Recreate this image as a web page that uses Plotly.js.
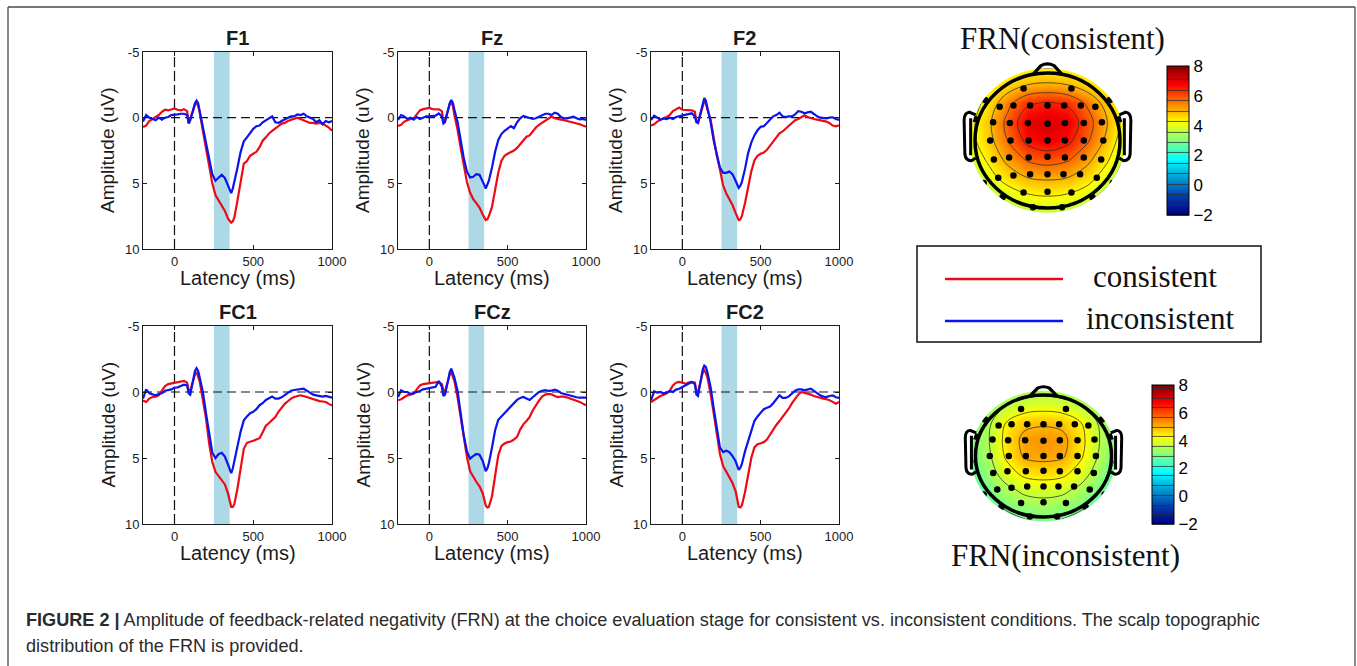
<!DOCTYPE html>
<html><head><meta charset="utf-8">
<script src="https://cdn.plot.ly/plotly-3.0.1.min.js"></script>
<style>html,body{margin:0;padding:0;background:#fff;} #chart{width:1357px;height:666px;}</style>
</head><body><div id="chart"></div>
<script>
// ---------------- DATA ----------------
const latency = [-200,-180,-160,-140,-120,-100,-80,-60,-40,-20,0,20,40,60,80,90,100,120,130,140,150,160,180,200,220,240,260,280,300,320,340,350,360,370,380,400,420,440,460,480,500,520,540,560,580,600,620,640,660,680,700,720,740,760,780,800,820,840,860,880,900,920,940,960,980,1000];
const channels = ['F1','Fz','F2','FC1','FCz','FC2'];
const conditions = ['consistent','inconsistent'];
const frnWindow = [250, 350];
const yTickVals = [-5,0,5,10];
const yTickText = ['-5','0','5','10'];
const xTickVals = [0,500,1000];

const consF1 = [0.7,0.6,0.25,0.1,0.0,-0.2,-0.45,-0.6,-0.55,-0.6,-0.7,-0.6,-0.55,-0.65,-0.5,0.4,0.1,-0.6,-1.0,-1.15,-0.9,-0.4,1.0,2.25,3.8,5.0,5.9,6.3,6.7,7.1,7.7,7.9,8.0,7.9,7.6,6.3,4.8,3.5,3.3,2.9,2.75,2.6,2.25,1.75,1.5,1.2,1.0,0.85,0.65,0.45,0.4,0.25,0.15,0.1,0.0,0.1,0.2,0.35,0.4,0.4,0.45,0.4,0.45,0.6,0.75,1.0];
const inconF1 = [0.3,-0.2,0.0,0.1,0.2,0.0,0.15,0.0,-0.05,-0.2,-0.2,-0.25,-0.3,-0.3,-0.2,0.45,0.2,-0.7,-1.1,-1.3,-1.1,-0.5,0.7,2.0,3.3,4.3,4.8,4.55,4.35,4.6,5.2,5.5,5.75,5.4,4.9,3.8,2.6,1.8,1.5,1.2,0.85,0.65,0.6,0.35,0.2,0.0,-0.1,0.35,0.4,0.25,0.15,0.0,-0.1,-0.1,-0.25,-0.2,-0.3,-0.1,0.0,0.1,0.35,0.2,0.5,0.25,0.35,0.25];

const consFz = [0.63,0.55,0.3,0.18,0.1,0.05,-0.3,-0.55,-0.65,-0.7,-0.74,-0.65,-0.63,-0.63,-0.5,0.3,0.2,-0.6,-1.0,-1.14,-0.9,-0.2,0.9,2.3,3.7,4.9,5.7,6.2,6.5,6.85,7.35,7.6,7.8,7.75,7.5,6.8,5.4,4.2,3.3,2.9,2.75,2.65,2.5,2.3,2.0,1.75,1.45,1.35,1.05,0.75,0.55,0.4,0.2,0.1,-0.08,0.05,0.13,0.15,0.2,0.25,0.3,0.4,0.43,0.5,0.6,0.69];
const inconFz = [0.18,-0.2,-0.1,0.1,0.0,0.15,-0.05,0.1,0.0,-0.1,-0.1,-0.15,-0.15,-0.33,-0.1,0.45,0.35,-0.6,-1.1,-1.35,-1.15,-0.6,0.3,1.7,3.1,4.1,4.55,4.5,4.3,4.35,4.8,5.1,5.4,5.1,4.8,3.8,2.6,1.7,1.25,1.0,0.8,0.65,0.8,0.35,0.05,-0.13,-0.05,0.05,0.1,0.05,-0.05,-0.2,-0.3,-0.3,-0.2,-0.38,-0.3,-0.05,0.05,0.05,0.0,-0.08,0.05,0.13,0.1,0.18];

const consF2 = [0.6,0.5,0.3,0.15,0.05,-0.05,-0.2,-0.5,-0.65,-0.77,-0.6,-0.6,-0.56,-0.56,-0.45,0.3,0.4,-0.4,-0.9,-1.25,-1.1,-0.6,0.1,1.5,2.9,3.95,5.15,5.75,6.2,6.65,7.25,7.5,7.8,7.75,7.5,6.5,5.3,4.1,3.25,2.9,2.75,2.65,2.45,2.15,1.85,1.5,1.2,1.05,0.85,0.6,0.4,0.2,0.1,-0.05,-0.18,-0.05,0.05,0.1,0.15,0.2,0.25,0.3,0.42,0.6,0.66,0.59];
const inconF2 = [0.18,-0.15,0.0,0.15,0.05,0.1,0.0,0.1,-0.05,-0.1,-0.2,-0.2,-0.28,-0.33,-0.1,0.35,0.4,-0.5,-1.1,-1.5,-1.3,-0.8,0.3,1.75,2.9,3.8,4.2,4.2,4.1,4.3,4.8,5.1,5.35,5.2,4.9,3.9,2.7,1.9,1.35,0.95,0.7,0.65,0.4,0.15,-0.1,-0.2,-0.38,-0.1,-0.05,-0.1,-0.1,-0.25,-0.5,-0.45,-0.33,-0.4,-0.45,-0.28,-0.1,0.0,0.05,0.05,0.0,-0.03,0.1,0.18];

const consFC1 = [0.65,0.75,0.5,0.38,0.35,0.25,-0.1,-0.45,-0.6,-0.65,-0.69,-0.75,-0.78,-0.84,-0.7,-0.1,-0.1,-0.9,-1.35,-1.5,-1.2,-0.8,0.6,2.0,3.9,5.3,6.05,6.35,6.7,7.0,7.7,8.3,8.7,8.7,8.5,7.3,5.6,4.3,3.85,3.8,3.7,3.6,3.5,3.05,2.55,2.35,2.1,1.9,1.5,1.15,0.9,0.7,0.5,0.38,0.3,0.25,0.3,0.38,0.5,0.58,0.62,0.69,0.72,0.76,0.9,1.02];
const inconFC1 = [0.5,-0.2,0.1,0.2,0.25,0.15,0.1,-0.1,-0.15,-0.2,-0.33,-0.35,-0.45,-0.55,-0.5,0.1,0.2,-1.0,-1.6,-1.8,-1.6,-1.1,0.0,1.6,3.3,4.6,5.0,4.7,4.6,4.9,5.5,5.85,6.15,5.8,5.3,4.1,3.0,2.15,1.85,1.6,1.5,1.3,1.0,0.85,0.6,0.5,0.35,0.5,0.5,0.4,0.25,0.1,-0.1,-0.15,-0.2,-0.2,-0.25,-0.1,0.05,0.2,0.25,0.3,0.35,0.3,0.38,0.43];

const consFCz = [0.63,0.55,0.4,0.25,0.2,0.13,-0.2,-0.5,-0.6,-0.63,-0.63,-0.65,-0.68,-0.76,-0.6,-0.1,-0.05,-0.9,-1.3,-1.5,-1.2,-0.85,0.4,1.95,3.4,4.9,6.0,6.45,6.8,7.15,7.65,8.1,8.6,8.75,8.7,7.9,6.3,4.8,4.1,3.9,3.8,3.75,3.6,3.4,2.85,2.45,2.2,1.9,1.4,1.0,0.65,0.35,0.2,0.15,0.18,0.3,0.38,0.35,0.35,0.42,0.5,0.55,0.63,0.75,0.88,1.01];
const inconFCz = [0.38,-0.13,0.0,0.0,0.15,0.08,0.0,-0.08,-0.2,-0.25,-0.25,-0.3,-0.4,-0.84,-0.4,0.3,0.2,-0.9,-1.5,-1.77,-1.5,-1.1,-0.1,1.7,3.3,4.5,5.05,4.85,4.7,4.75,5.2,5.6,6.0,5.8,5.4,4.2,2.9,2.1,1.85,1.65,1.35,1.15,0.89,0.6,0.45,0.38,0.5,0.6,0.4,0.2,0.0,-0.1,-0.15,-0.08,-0.1,-0.18,-0.1,0.08,0.15,0.25,0.3,0.38,0.4,0.43,0.43,0.43];

const consFC2 = [0.76,0.6,0.45,0.3,0.2,0.1,-0.1,-0.5,-0.7,-0.76,-0.7,-0.63,-0.72,-0.76,-0.7,-0.05,0.0,-1.0,-1.45,-1.65,-1.45,-1.1,0.1,1.6,3.3,4.7,5.6,6.08,6.45,6.9,7.5,8.1,8.7,8.75,8.6,7.6,6.2,5.0,4.2,3.95,3.88,3.8,3.6,3.2,2.8,2.5,2.2,1.9,1.6,1.25,0.85,0.5,0.2,0.0,0.05,0.1,0.2,0.3,0.38,0.45,0.5,0.55,0.62,0.75,0.89,0.76];
const inconFC2 = [0.63,-0.05,0.05,0.0,0.1,0.05,-0.08,0.0,-0.18,-0.25,-0.38,-0.5,-0.6,-0.76,-0.6,0.2,0.3,-1.0,-1.7,-2.0,-1.9,-1.5,-0.4,1.2,2.9,4.2,4.55,4.45,4.55,4.85,5.25,5.6,5.9,5.75,5.45,4.5,3.7,3.0,2.2,1.85,1.6,1.3,1.2,1.1,0.85,0.5,0.25,0.45,0.45,0.33,0.1,-0.1,-0.2,-0.2,-0.13,-0.2,-0.25,-0.08,0.1,0.25,0.35,0.38,0.3,0.25,0.4,0.45];

const erpConsistent = [consF1, consFz, consF2, consFC1, consFCz, consFC2];
const erpInconsistent = [inconF1, inconFz, inconF2, inconFC1, inconFCz, inconFC2];

// Scalp maps (FRN amplitude, uV) on a grid over the head (rows bottom -> top)
const topoGridU = [-1.1,-0.825,-0.55,-0.275,0,0.275,0.55,0.825,1.1];
const topoGridV = [-1.1,-0.825,-0.55,-0.275,0,0.275,0.55,0.825,1.1];
const topoConsistent = [
  [2.5,2.9,3.3,3.5,3.6,3.5,3.3,2.9,2.4],
  [2.9,3.4,3.9,4.2,4.3,4.2,3.9,3.3,2.7],
  [3.3,4.0,4.6,5.0,5.1,5.0,4.6,3.9,3.1],
  [3.7,4.4,5.2,5.8,6.0,5.8,5.2,4.4,3.4],
  [4.0,4.7,5.7,6.6,6.9,6.6,5.8,4.8,3.7],
  [4.0,4.8,5.9,6.9,7.1,6.9,6.0,5.0,3.9],
  [3.9,4.5,5.5,6.3,6.5,6.3,5.6,4.7,3.9],
  [3.7,4.2,4.6,5.0,5.1,5.0,4.6,4.2,3.7],
  [3.4,3.8,4.0,4.2,4.2,4.2,4.0,3.8,3.4]
];
const topoInconsistent = [
  [2.0,2.3,2.6,2.8,2.9,2.8,2.6,2.3,2.0],
  [2.2,2.6,3.0,3.2,3.3,3.2,3.0,2.6,2.2],
  [2.4,2.9,3.4,3.8,3.9,3.8,3.4,2.9,2.4],
  [2.6,3.2,4.0,4.5,4.6,4.5,4.0,3.2,2.6],
  [2.8,3.4,4.4,5.1,5.2,5.1,4.4,3.5,2.8],
  [2.9,3.5,4.5,5.2,5.3,5.2,4.5,3.6,2.9],
  [2.8,3.4,4.3,4.8,4.9,4.8,4.3,3.5,2.8],
  [2.7,3.1,3.6,3.9,4.0,3.9,3.6,3.1,2.7],
  [2.5,2.8,3.0,3.2,3.3,3.2,3.0,2.8,2.5]
];
// electrode positions (normalized head coordinates)
const elecU = [-0.33,0.33, -0.86,0.86, -0.66,-0.47,-0.24,0,0.23,0.46,0.66, -1.0,1.0, -0.75,-0.52,-0.27,0,0.24,0.5,0.75, -0.79,-0.51,-0.26,0,0.24,0.5,0.77, -0.74,-0.53,-0.26,0,0.24,0.5,0.74, -0.68,-0.47,-0.24,0,0.22,0.45,0.68, -0.88,0.9, -0.33,0,0.33, -0.62,0.62, -0.2,0.2];
const elecV = [0.77,0.77, 0.6,0.6, 0.5,0.52,0.52,0.52,0.52,0.52,0.5, 0.32,0.32, 0.27,0.26,0.26,0.25,0.26,0.26,0.27, 0.0,0.0,0.0,0.0,0.0,0.0,0.0, -0.28,-0.25,-0.25,-0.24,-0.25,-0.25,-0.28, -0.55,-0.52,-0.5,-0.5,-0.5,-0.5,-0.55, -0.63,-0.63, -0.77,-0.76,-0.77, -0.84,-0.84, -0.99,-0.99];

const colorbarTicks = [-2,0,2,4,6,8];
const colorbarText = ['\u22122','0','2','4','6','8'];

// ---------------- LAYOUT HELPERS ----------------
const W = 1357, H = 666;
const px = x => x / W;
const py = y => 1 - y / H;
const cols = [[143,332],[398,586],[651,839]];
const rows = [[52,249],[326,524]];
const RED = 'rgb(238,10,20)', BLUE = 'rgb(10,20,238)';
const SANS = 'Liberation Sans, Arial, sans-serif';
const SERIF = 'Liberation Serif, Times New Roman, serif';
const INK = '#1b1b1b';

const traces = [];
const shapes = [];
const annotations = [];
const layout = {
  width: W, height: H, margin: {l:0,r:0,t:0,b:0},
  paper_bgcolor: '#fff', plot_bgcolor: '#fff', showlegend: false,
  font: {family: SANS, color: INK}
};

channels.forEach((ch, i) => {
  const c = cols[i % 3], r = rows[Math.floor(i / 3)];
  const n = i + 1;
  const xa = 'x' + n, ya = 'y' + n;
  layout['xaxis' + n] = {
    domain: [px(c[0]), px(c[1])], anchor: ya, range: [-200, 1000],
    tickvals: xTickVals, ticks: 'inside', ticklen: 4, tickcolor: INK,
    showline: true, linecolor: INK, linewidth: 1, mirror: 'ticks',
    showgrid: false, zeroline: false, tickfont: {size: 13, color: INK, family: SANS}
  };
  layout['yaxis' + n] = {
    domain: [py(r[1]), py(r[0])], anchor: xa, range: [10, -5],
    tickvals: yTickVals, ticktext: yTickText, ticks: 'inside', ticklen: 4, tickcolor: INK,
    showline: true, linecolor: INK, linewidth: 1, mirror: 'ticks',
    showgrid: false, zeroline: false, tickfont: {size: 13, color: INK, family: SANS}
  };
  shapes.push({type:'rect', xref: xa, yref: ya + ' domain', x0: frnWindow[0], x1: frnWindow[1], y0: 0, y1: 1,
    fillcolor: 'rgb(173,216,230)', line: {width: 0}, layer: 'below'});
  shapes.push({type:'line', xref: xa, yref: ya + ' domain', x0: 0, x1: 0, y0: 0, y1: 1,
    line: {color: '#111', width: 1.2, dash: '10px,4px'}, layer: 'below'});
  shapes.push({type:'line', xref: xa + ' domain', yref: ya, x0: 0, x1: 1, y0: 0, y1: 0,
    line: {color: '#111', width: 1.2, dash: '9px,5px'}, layer: 'below'});
  traces.push({type:'scatter', mode:'lines', x: latency, y: erpConsistent[i], xaxis: xa, yaxis: ya,
    name: conditions[0], line: {color: RED, width: 2.2}, hoverinfo: 'skip'});
  traces.push({type:'scatter', mode:'lines', x: latency, y: erpInconsistent[i], xaxis: xa, yaxis: ya,
    name: conditions[1], line: {color: BLUE, width: 2.2}, hoverinfo: 'skip'});
  annotations.push({xref:'paper', yref:'paper', x: px((c[0]+c[1])/2), y: py(r[0]-14), text: '<b>' + ch + '</b>',
    showarrow: false, xanchor: 'center', yanchor: 'middle', font: {size: 20, family: SANS, color: INK}});
  annotations.push({xref:'paper', yref:'paper', x: px(c[0]-35.5), y: py((r[0]+r[1])/2), text: 'Amplitude (uV)',
    textangle: -90, showarrow: false, xanchor: 'center', yanchor: 'middle', font: {size: 19, family: SANS, color: INK}});
  annotations.push({xref:'paper', yref:'paper', x: px((c[0]+c[1])/2), y: py(r[1]+29), text: 'Latency (ms)',
    showarrow: false, xanchor: 'center', yanchor: 'middle', font: {size: 20, family: SANS, color: INK}});
});

// ---------------- SCALP MAPS ----------------
function ellipsePath(rad, ccw) {
  let s = '';
  const N = 72;
  for (let k = 0; k <= N; k++) {
    const a = (ccw ? 1 : -1) * 2 * Math.PI * k / N;
    s += (k === 0 ? 'M ' : ' L ') + (rad * Math.cos(a)).toFixed(4) + ',' + (rad * Math.sin(a)).toFixed(4);
  }
  return s + ' Z';
}
const topoSpecs = [
  {n: 7, z: topoConsistent, cx: 1047.5, cy: 140.5, rx: 72.5, ry: 67.5,
   cb: {x: 1167, top: 66, bottom: 215, th: 22}, title: 'FRN(consistent)', tx: 1062, ty: 38},
  {n: 8, z: topoInconsistent, cx: 1043.5, cy: 456, rx: 68, ry: 61,
   cb: {x: 1152, top: 385, bottom: 524, th: 22}, title: 'FRN(inconsistent)', tx: 1065, ty: 555}
];
const K = 1.45;
topoSpecs.forEach(s => {
  const xa = 'x' + s.n, ya = 'y' + s.n;
  layout['xaxis' + s.n] = {domain: [px(s.cx - K*s.rx), px(s.cx + K*s.rx)], range: [-K, K], visible: false, anchor: ya, fixedrange: true};
  layout['yaxis' + s.n] = {domain: [py(s.cy + K*s.ry), py(s.cy - K*s.ry)], range: [-K, K], visible: false, anchor: xa, fixedrange: true};
  traces.push({type: 'contour', x: topoGridU, y: topoGridV, z: s.z, xaxis: xa, yaxis: ya,
    colorscale: 'Jet', zauto: false, zmin: -2, zmax: 8, hoverinfo: 'skip',
    contours: {coloring: 'heatmap', start: -2, end: 8, size: 0.7, showlines: true},
    line: {color: 'rgba(45,45,45,0.85)', width: 0.9, smoothing: 1},
    colorbar: {x: px(s.cb.x), xanchor: 'left', xpad: 0, y: py(s.cb.top), yanchor: 'top', ypad: 0,
      len: s.cb.bottom - s.cb.top, lenmode: 'pixels', thickness: s.cb.th, thicknessmode: 'pixels',
      outlinewidth: 1, outlinecolor: '#000', tickvals: colorbarTicks, ticktext: colorbarText,
      ticks: '', tickfont: {size: 17, family: SANS, color: '#000'}}
  });
  // mask outside the head
  const box = 'M -2,-2 L 2,-2 L 2,2 L -2,2 Z ';
  shapes.push({type: 'path', xref: xa, yref: ya, path: box + ellipsePath(1.07, true), fillrule: 'evenodd',
    fillcolor: '#fff', line: {width: 0}, layer: 'above'});
  // head outline, nose, ears
  shapes.push({type: 'circle', xref: xa, yref: ya, x0: -1, x1: 1, y0: -1, y1: 1, line: {color: '#000', width: 3.5}, layer: 'above'});
  shapes.push({type: 'path', xref: xa, yref: ya, path: 'M -0.2,0.98 L -0.09,1.11 Q 0,1.16 0.09,1.11 L 0.2,0.98',
    line: {color: '#000', width: 3.2}, layer: 'above'});
  shapes.push({type: 'path', xref: xa, yref: ya, path: 'M -0.99,0.38 L -1.08,0.42 Q -1.15,0.41 -1.15,0.3 L -1.14,-0.2 Q -1.13,-0.3 -1.05,-0.3 L -0.99,-0.26 M -1.06,0.33 L -1.06,-0.22',
    line: {color: '#000', width: 3}, layer: 'above'});
  shapes.push({type: 'path', xref: xa, yref: ya, path: 'M 0.99,0.38 L 1.08,0.42 Q 1.15,0.41 1.15,0.3 L 1.14,-0.2 Q 1.13,-0.3 1.05,-0.3 L 0.99,-0.26 M 1.06,0.33 L 1.06,-0.22',
    line: {color: '#000', width: 3}, layer: 'above'});
  traces.push({type: 'scatter', mode: 'markers', x: elecU, y: elecV, xaxis: xa, yaxis: ya, hoverinfo: 'skip',
    marker: {color: '#000', size: 6.5}});
  annotations.push({xref:'paper', yref:'paper', x: px(s.tx), y: py(s.ty), text: s.title, showarrow: false,
    xanchor: 'center', yanchor: 'middle', font: {size: 31, family: SERIF, color: '#111'}});
});

// ---------------- LEGEND BOX ----------------
shapes.push({type: 'rect', xref: 'paper', yref: 'paper', x0: px(917), x1: px(1261), y0: py(342), y1: py(246),
  line: {color: '#111', width: 1.5}, fillcolor: 'rgba(0,0,0,0)'});
shapes.push({type: 'line', xref: 'paper', yref: 'paper', x0: px(945), x1: px(1063), y0: py(279), y1: py(279), line: {color: RED, width: 2.5}});
shapes.push({type: 'line', xref: 'paper', yref: 'paper', x0: px(945), x1: px(1063), y0: py(321), y1: py(321), line: {color: BLUE, width: 2.5}});
annotations.push({xref:'paper', yref:'paper', x: px(1091), y: py(276), text: conditions[0], showarrow: false,
  xanchor: 'left', yanchor: 'middle', font: {size: 31, family: SERIF, color: '#111'}});
annotations.push({xref:'paper', yref:'paper', x: px(1084), y: py(318), text: conditions[1], showarrow: false,
  xanchor: 'left', yanchor: 'middle', font: {size: 31, family: SERIF, color: '#111'}});

// ---------------- FRAME + CAPTION ----------------
const FRAME = '#4a4a4a';
shapes.push({type: 'line', xref: 'paper', yref: 'paper', x0: px(8), x1: px(1355), y0: py(7), y1: py(7), line: {color: FRAME, width: 1.3}});
shapes.push({type: 'line', xref: 'paper', yref: 'paper', x0: px(8), x1: px(8), y0: py(7), y1: 0, line: {color: FRAME, width: 1.3}});
shapes.push({type: 'line', xref: 'paper', yref: 'paper', x0: px(1355), x1: px(1355), y0: py(7), y1: 0, line: {color: FRAME, width: 1.3}});
annotations.push({xref:'paper', yref:'paper', x: px(24), y: py(620), xanchor: 'left', yanchor: 'middle', showarrow: false,
  text: '<b>FIGURE 2 |</b> Amplitude of feedback-related negativity (FRN) at the choice evaluation stage for consistent vs. inconsistent conditions. The scalp topographic',
  font: {size: 18.1, family: SANS, color: '#2a2a2a'}});
annotations.push({xref:'paper', yref:'paper', x: px(24), y: py(646), xanchor: 'left', yanchor: 'middle', showarrow: false,
  text: 'distribution of the FRN is provided.',
  font: {size: 18.1, family: SANS, color: '#2a2a2a'}});

layout.shapes = shapes;
layout.annotations = annotations;
Plotly.newPlot('chart', traces, layout, {staticPlot: true, displayModeBar: false});
</script>
</body></html>
